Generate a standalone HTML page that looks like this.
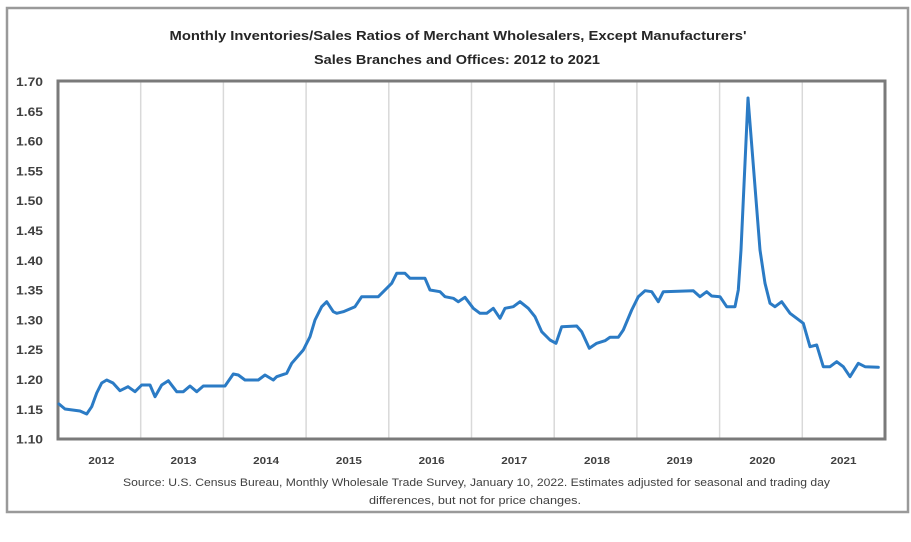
<!DOCTYPE html>
<html>
<head>
<meta charset="utf-8">
<style>
  html, body { margin:0; padding:0; background:#ffffff; }
  svg { display:block; }
  text { font-family: "Liberation Sans", "DejaVu Sans", sans-serif; }
</style>
</head>
<body>
<svg width="911" height="542" viewBox="0 0 911 542" xmlns="http://www.w3.org/2000/svg">
  <rect x="0" y="0" width="911" height="542" fill="#ffffff"/>
  <!-- outer frame -->
  <rect x="7" y="8" width="901" height="504" fill="#ffffff" stroke="#9a9a9a" stroke-width="2.5"/>

  <!-- title -->
  <text x="458" y="40" text-anchor="middle" font-size="12.5" font-weight="bold" fill="#262626" textLength="577" lengthAdjust="spacingAndGlyphs">Monthly Inventories/Sales Ratios of Merchant Wholesalers, Except Manufacturers'</text>
  <text x="457" y="64" text-anchor="middle" font-size="12.5" font-weight="bold" fill="#262626" textLength="286" lengthAdjust="spacingAndGlyphs">Sales Branches and Offices: 2012 to 2021</text>

  <!-- gridlines -->
  <g stroke="#d9d9d9" stroke-width="1.5">
    <line x1="140.7" y1="81" x2="140.7" y2="439"/>
    <line x1="223.4" y1="81" x2="223.4" y2="439"/>
    <line x1="306.1" y1="81" x2="306.1" y2="439"/>
    <line x1="388.8" y1="81" x2="388.8" y2="439"/>
    <line x1="471.5" y1="81" x2="471.5" y2="439"/>
    <line x1="554.2" y1="81" x2="554.2" y2="439"/>
    <line x1="636.9" y1="81" x2="636.9" y2="439"/>
    <line x1="719.6" y1="81" x2="719.6" y2="439"/>
    <line x1="802.3" y1="81" x2="802.3" y2="439"/>
  </g>

  <!-- plot border -->
  <rect x="58" y="81" width="827" height="358" fill="none" stroke="#7a7a7a" stroke-width="3"/>

  <!-- y labels -->
  <g font-size="12" font-weight="bold" fill="#404040" text-anchor="end">
    <text x="43" y="86" textLength="27" lengthAdjust="spacingAndGlyphs">1.70</text>
    <text x="43" y="115.8" textLength="27" lengthAdjust="spacingAndGlyphs">1.65</text>
    <text x="43" y="145.6" textLength="27" lengthAdjust="spacingAndGlyphs">1.60</text>
    <text x="43" y="175.4" textLength="27" lengthAdjust="spacingAndGlyphs">1.55</text>
    <text x="43" y="205.2" textLength="27" lengthAdjust="spacingAndGlyphs">1.50</text>
    <text x="43" y="235" textLength="27" lengthAdjust="spacingAndGlyphs">1.45</text>
    <text x="43" y="264.8" textLength="27" lengthAdjust="spacingAndGlyphs">1.40</text>
    <text x="43" y="294.6" textLength="27" lengthAdjust="spacingAndGlyphs">1.35</text>
    <text x="43" y="324.4" textLength="27" lengthAdjust="spacingAndGlyphs">1.30</text>
    <text x="43" y="354.2" textLength="27" lengthAdjust="spacingAndGlyphs">1.25</text>
    <text x="43" y="384" textLength="27" lengthAdjust="spacingAndGlyphs">1.20</text>
    <text x="43" y="413.8" textLength="27" lengthAdjust="spacingAndGlyphs">1.15</text>
    <text x="43" y="443.6" textLength="27" lengthAdjust="spacingAndGlyphs">1.10</text>
  </g>

  <!-- x labels -->
  <g font-size="10.5" font-weight="bold" fill="#404040" text-anchor="middle">
    <text x="101.4" y="464" textLength="26" lengthAdjust="spacingAndGlyphs">2012</text>
    <text x="183.5" y="464" textLength="26" lengthAdjust="spacingAndGlyphs">2013</text>
    <text x="266.2" y="464" textLength="26" lengthAdjust="spacingAndGlyphs">2014</text>
    <text x="348.9" y="464" textLength="26" lengthAdjust="spacingAndGlyphs">2015</text>
    <text x="431.6" y="464" textLength="26" lengthAdjust="spacingAndGlyphs">2016</text>
    <text x="514.3" y="464" textLength="26" lengthAdjust="spacingAndGlyphs">2017</text>
    <text x="597" y="464" textLength="26" lengthAdjust="spacingAndGlyphs">2018</text>
    <text x="679.7" y="464" textLength="26" lengthAdjust="spacingAndGlyphs">2019</text>
    <text x="762.4" y="464" textLength="26" lengthAdjust="spacingAndGlyphs">2020</text>
    <text x="843.5" y="464" textLength="26" lengthAdjust="spacingAndGlyphs">2021</text>
  </g>

  <!-- source -->
  <text x="123" y="486" font-size="11" fill="#404040" textLength="707" lengthAdjust="spacingAndGlyphs">Source: U.S. Census Bureau, Monthly Wholesale Trade Survey, January 10, 2022. Estimates adjusted for seasonal and trading day</text>
  <text x="369" y="504" font-size="11" fill="#404040" textLength="212" lengthAdjust="spacingAndGlyphs">differences, but not for price changes.</text>

  <!-- series -->
  <polyline fill="none" stroke="#2b7bc5" stroke-width="3" stroke-linejoin="round" stroke-linecap="round" points="
59,404 65,409 80,411 86.7,414 91.7,406.7 96.7,393 101.7,383 106.7,380 113,383 120,390.7 128,386.7 135,391.7 141.7,385 150,385 155,396.7 161.7,385 168.3,380.7 176.7,391.7 183.3,391.7 190,386 196.7,391.7 203.3,386 225,386 233.3,374 238.3,375 245,380 258.3,380 265,375 273.3,380 276.7,376.7 286.7,373.3 291.7,363.3 303.3,350 310,336.7 315,320 321.7,306.7 326.7,301.7 333.3,311.7 336.7,313.3 343.3,311.7 355,306.7 361.7,296.7 378.3,296.7 386.7,288.3 391.7,283.3 396.7,273.3 405,273.3 410,278.3 425,278.3 430,290 440,291.7 445,296.7 453.3,298.3 458.3,301.7 465,297.3 473.3,308.3 480,313.3 486.7,313.3 493.3,308.3 500,318.3 505,308.3 513.3,306.7 520,301.7 528.3,308.3 535,316.7 541.7,331.7 550,340 556,343.3 561.7,326.7 576.7,326 581.7,331.7 589.3,348.3 596.7,343.3 605,340.7 610,337.3 618.3,337.3 623.3,330 631.7,310 638.3,296.7 645,290.7 651.7,291.7 658.3,301.7 663.3,291.7 693.3,290.7 700,296.7 706.7,291.7 711.7,296 720,296.7 726.7,306.7 735,306.7 738.3,290 741,250 748,98 760,250 765,283.3 770,303.3 775,306.7 781.7,301.7 790,313.3 796.7,318.3 803.3,323.3 810,346.7 816.7,345 823.3,366.7 830,366.7 836.7,361.7 843.3,366.7 850,376.7 858.3,363.3 865,366.7 878.3,367.3"/>
</svg>
</body>
</html>
